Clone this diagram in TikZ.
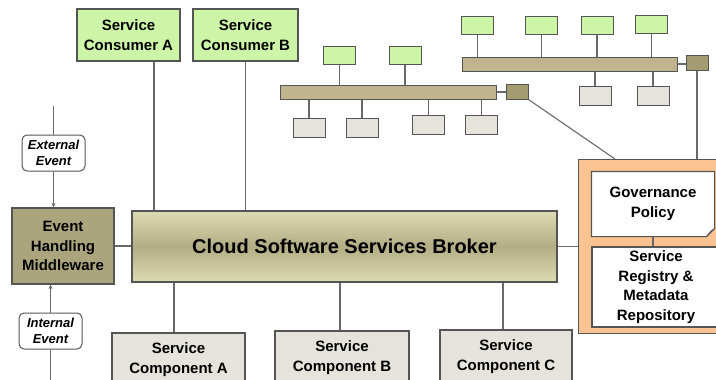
\documentclass[tikz,border=0pt]{standalone}
\usepackage{fontspec}
\setmainfont{Liberation Sans}
\usetikzlibrary{arrows.meta}

\definecolor{consgreen}{RGB}{204,245,168}
\definecolor{compgray}{RGB}{230,227,220}
\definecolor{bustan}{RGB}{192,180,142}
\definecolor{hubolive}{RGB}{163,155,114}
\definecolor{ehmolive}{RGB}{171,165,126}
\definecolor{brokerlight}{RGB}{222,220,180}
\definecolor{brokermid}{RGB}{178,173,132}
\definecolor{orangefill}{RGB}{251,195,145}
\definecolor{boxline}{RGB}{85,85,85}
\definecolor{wire}{RGB}{105,105,105}

\tikzset{
  box/.style={draw=boxline, line width=1.1pt, inner sep=0pt, align=center,
    font=\bfseries\fontsize{15}{19.5}\selectfont},
  consumer/.style={box, fill=consgreen},
  component/.style={box, fill=compgray},
  evt/.style={draw=boxline, fill=white, line width=1pt, rounded corners=5pt,
    inner sep=0pt, align=center, minimum width=63pt, minimum height=36pt,
    font=\bfseries\itshape\fontsize{13}{16}\selectfont},
  bus/.style={draw=boxline, fill=bustan, line width=1pt, minimum height=14pt, inner sep=0pt},
  hub/.style={draw=boxline, fill=hubolive, line width=1pt, minimum width=22pt,
    minimum height=15pt, inner sep=0pt},
  client/.style={draw=boxline, fill=consgreen, line width=1pt, minimum width=32pt,
    minimum height=18pt, inner sep=0pt},
  server/.style={draw=boxline, fill=compgray, line width=1pt, minimum width=32pt,
    minimum height=19pt, inner sep=0pt},
  link/.style={draw=wire, line width=1.1pt},
}

\begin{document}
\begin{tikzpicture}[x=1pt,y=-1pt,>={Stealth[length=4.5pt,width=4pt]}]
  \clip (0,0) rectangle (716,380);
  \fill[white] (0,0) rectangle (716,380);

  %% Consumers and broker
  \node[consumer,minimum width=103pt,minimum height=52pt] (consA) at (128.5,35) {Service\\Consumer A};
  \node[consumer,minimum width=105pt,minimum height=52pt] (consB) at (245.5,35) {Service\\Consumer B};
  \node[box,top color=brokerlight,bottom color=brokerlight,middle color=brokermid,
    minimum width=425pt,minimum height=71pt,font=\bfseries\fontsize{20}{24}\selectfont]
    (broker) at (344.5,246.5) {Cloud Software Services Broker};

  %% Events
  \node[box,fill=ehmolive,minimum width=102pt,minimum height=76pt] (ehm) at (63,246) {Event\\Handling\\Middleware};
  \node[evt] (ext) at (53.5,153) {External\\Event};
  \node[evt] (intl) at (50.5,331) {Internal\\Event};
  \coordinate (extin) at (53.5,106);
  \coordinate (intout) at (50.5,384);

  %% Components
  \node[component,minimum width=133pt,minimum height=53pt] (compA) at (178.5,359.5) {Service\\Component A};
  \node[component,minimum width=134pt,minimum height=53pt] (compB) at (342,357.5) {Service\\Component B};
  \node[component,minimum width=132pt,minimum height=53pt] (compC) at (506,356.5) {Service\\Component C};

  %% Governance and registry
  \node[draw=boxline,fill=orangefill,line width=1.1pt,inner sep=0pt,anchor=north west,
    minimum width=152pt,minimum height=174pt] (repo) at (578,159) {};
  \node[box,draw=none,minimum width=122pt,minimum height=64pt] (gov) at (653,204) {Governance\\Policy};
  \fill[white,draw=boxline,line width=1.1pt] (gov.north west) -- (gov.north east)
    -- ([yshift=8pt]gov.south east) -- ([xshift=-8pt]gov.south east) -- (gov.south west) -- cycle;
  \draw[boxline,line width=0.9pt] ([yshift=8pt]gov.south east) -- ([xshift=-4pt,yshift=5pt]gov.south east)
    -- ([xshift=-8pt]gov.south east);
  \node[font=\bfseries\fontsize{15}{19.5}\selectfont,align=center] at (gov) {Governance\\Policy};
  \node[box,fill=white,minimum width=128pt,minimum height=80pt] (reg) at (656,287) {Service\\Registry \&\\Metadata\\Repository};

  %% Lower network
  \node[bus,minimum width=216pt] (lbus) at (388,92) {};
  \node[hub] (lhub) at (517,91.5) {};
  \foreach \x [count=\i] in {339.5,405}
    \node[client] (lc\i) at (\x,55) {};
  \foreach \x/\y [count=\i] in {309/127.5,362/127.5,428.5/124.5,481.5/124.5}
    \node[server] (ls\i) at (\x,\y) {};

  %% Upper network
  \node[bus,minimum width=215pt] (ubus) at (569.5,64) {};
  \node[hub] (uhub) at (697,62.5) {};
  \foreach \x/\y [count=\i] in {477.5/25,541.5/25,597/25,651.5/24}
    \node[client] (uc\i) at (\x,\y) {};
  \foreach \x [count=\i] in {595,653}
    \node[server] (us\i) at (\x,96) {};

  %% Vertical links
  \draw[link] ([xshift=25.5pt]consA.south) -- ([xshift=25.5pt]consA.south |- broker.north);
  \draw[link] (consB.south) -- (consB.south |- broker.north);
  \draw[link] ([xshift=-4.5pt]compA.north) -- ([xshift=-4.5pt]compA.north |- broker.south);
  \draw[link] ([xshift=-2pt]compB.north) -- ([xshift=-2pt]compB.north |- broker.south);
  \draw[link] ([xshift=-3pt]compC.north) -- ([xshift=-3pt]compC.north |- broker.south);
  \draw[link] (extin) -- (ext.north);
  \draw[link,->] (ext.south) -- (ext.south |- ehm.north);
  \draw[link,->] (intl.north) -- (intl.north |- ehm.south);
  \draw[link] (intl.south) -- (intout);
  \draw[link] (gov.south) -- (gov.south |- reg.north);
  \foreach \i in {1,2} {
    \draw[link] (lc\i) -- (lc\i |- lbus.north);
    \draw[link] (us\i) -- (us\i |- ubus.south);
  }
  \foreach \i in {1,...,4} {
    \draw[link] (ls\i) -- (ls\i |- lbus.south);
    \draw[link] (uc\i) -- (uc\i |- ubus.north);
  }

  %% Horizontal links
  \draw[link] (ehm.east) -- (ehm.east -| broker.west);
  \draw[link] (broker.east) -- (broker.east -| repo.west);
  \draw[link] (lbus.east) -- (lbus.east -| lhub.west);
  \draw[link] (ubus.east) -- (ubus.east -| uhub.west);
  \draw[link] (lhub.south east) -- ([xshift=37pt]repo.north west);
  \draw[link] (uhub.south) -- (uhub.south |- repo.north);
\end{tikzpicture}
\end{document}
